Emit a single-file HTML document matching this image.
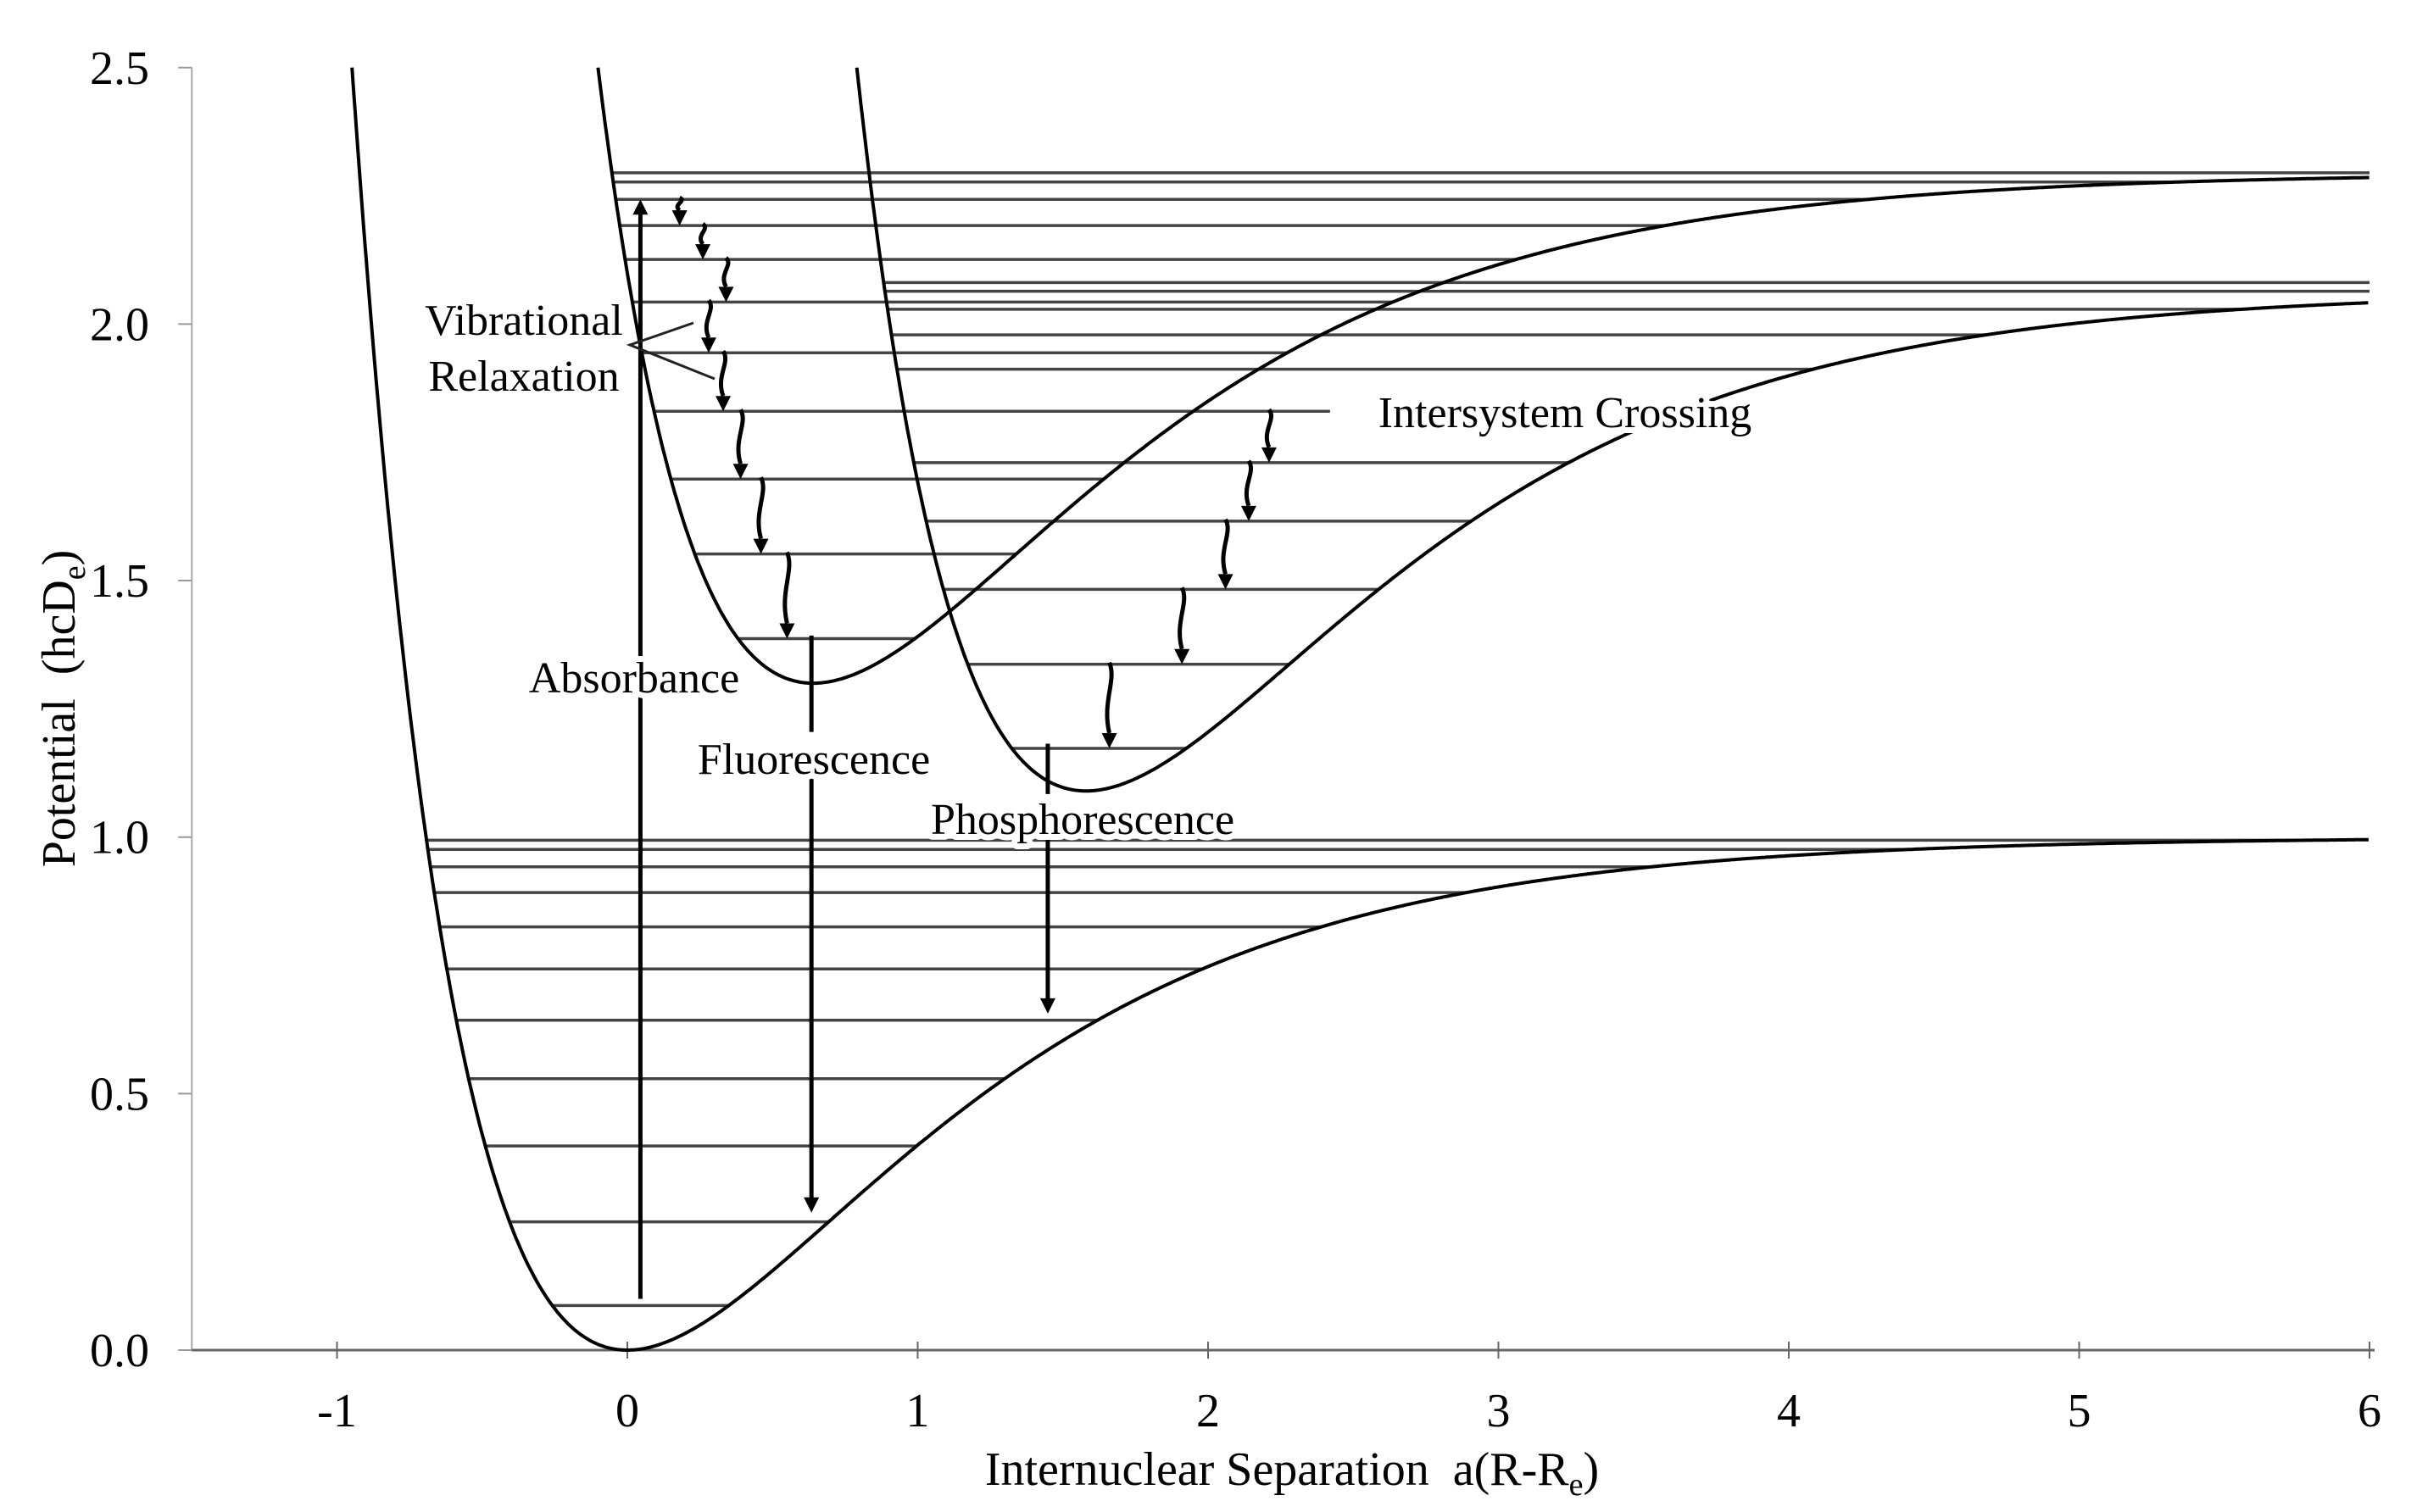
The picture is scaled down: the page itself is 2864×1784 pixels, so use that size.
<!DOCTYPE html>
<html><head><meta charset="utf-8"><style>
html,body{margin:0;padding:0;background:#fff}
svg{display:block}
text{font-family:"Liberation Serif","DejaVu Serif",serif;fill:#000}
</style></head><body>
<svg id="chart" width="2864" height="1784" viewBox="0 0 2864 1784" xmlns="http://www.w3.org/2000/svg">
<g id="grid"></g>
</svg>
<script>
// ---- data ----
const xTicks = [-1, 0, 1, 2, 3, 4, 5, 6];
const xTickLabels = ["-1", "0", "1", "2", "3", "4", "5", "6"];
const yTicks = [0, 0.5, 1, 1.5, 2, 2.5];
const yTickLabels = ["0.0", "0.5", "1.0", "1.5", "2.0", "2.5"];
const wellNames = ["ground-state", "singlet-state", "triplet-state"];
const wellMinX = [0, 0.64, 1.58];
const wellMinV = [0, 1.30, 1.09];
const wellDepth = [1.0, 0.995, 0.975];
const wellWidth = [1.0, 1.0, 1.0];
const groundLevels = [0.087, 0.250, 0.398, 0.529, 0.643, 0.743, 0.825, 0.892, 0.942, 0.976, 0.994];
const singletLevels = [1.387, 1.552, 1.698, 1.830, 1.944, 2.043, 2.126, 2.192, 2.243, 2.277, 2.295];
const tripletLevels = [1.173, 1.337, 1.483, 1.616, 1.730, 1.912, 1.979, 2.029, 2.064, 2.081];
const singletLineEndOverride = {3: 2.42};
const singletRelaxX = [0.18, 0.26, 0.34, 0.28, 0.33, 0.39, 0.46, 0.55];
const tripletRelaxX = [2.21, 2.14, 2.06, 1.91, 1.66];
const absorbance = {x: 0.045, from: 0.10, to: 2.243};
const fluorescence = {x: 0.634, from: 1.393, to: 0.268, gapTop: 1.205, gapBot: 1.13};
const phosphorescence = {x: 1.448, from: 1.182, to: 0.656, gapTop: 1.084, gapBot: 1.01};

// ---- axes ----
const X0 = 740, XS = 342.5, Y0 = 1593, YS = 605.3;
const xs = u => X0 + XS * u;
const ys = v => Y0 - YS * v;
const NS = "http://www.w3.org/2000/svg";
const svg = document.getElementById('chart');
function mk(tag, attrs, parent) {
  const e = document.createElementNS(NS, tag);
  for (const k in attrs) e.setAttribute(k, attrs[k]);
  (parent || svg).appendChild(e);
  return e;
}
function leftX(i, v) { const s = Math.sqrt(Math.max(0, (v - wellMinV[i]) / wellDepth[i])); return wellMinX[i] - Math.log(1 + s) / wellWidth[i]; }
function rightX(i, v) { const s = Math.sqrt(Math.max(0, (v - wellMinV[i]) / wellDepth[i])); return s >= 1 ? 6 : Math.min(6, wellMinX[i] - Math.log(1 - s) / wellWidth[i]); }
function morse(i, u) { const t = 1 - Math.exp(-wellWidth[i] * (u - wellMinX[i])); return wellMinV[i] + wellDepth[i] * t * t; }

// y axis
const yAxis = mk('line', {x1: xs(-1.5), y1: ys(0), x2: xs(-1.5), y2: ys(2.5), stroke: '#aaa', 'stroke-width': 2});


yTicks.forEach((v, k) => {
  const t = mk('line', {x1: xs(-1.5) - 16, y1: ys(v), x2: xs(-1.5), y2: ys(v), stroke: '#999', 'stroke-width': 2});
  
  
  const l = mk('text', {x: 176, y: ys(v) + 19, 'font-size': 56, 'text-anchor': 'end'});
  
  
  l.textContent = yTickLabels[k];
});
// x axis
const xAxis = mk('line', {x1: xs(-1.5), y1: ys(0), x2: xs(6) + 6, y2: ys(0), stroke: '#666', 'stroke-width': 3});


xTicks.forEach((u, k) => {
  const t = mk('line', {x1: xs(u), y1: ys(0) - 10, x2: xs(u), y2: ys(0) + 10, stroke: '#666', 'stroke-width': 2});
  
  
  const l = mk('text', {x: xs(u), y: 1683, 'font-size': 56, 'text-anchor': 'middle'});
  
  
  l.textContent = xTickLabels[k];
});

// vibrational levels
function levels(i, arr, name, override) {
  arr.forEach((v, k) => {
    const a = leftX(i, v);
    let b = rightX(i, v);
    if (override && override[k] !== undefined) b = override[k];
    const ln = mk('line', {x1: xs(a), y1: ys(v), x2: xs(b), y2: ys(v), stroke: '#444', 'stroke-width': 3.5});
    
    
  });
}
levels(0, groundLevels, 'ground-vibrational-level');
levels(1, singletLevels, 'singlet-vibrational-level', singletLineEndOverride);
levels(2, tripletLevels, 'triplet-vibrational-level');

// potential curves
wellNames.forEach((nm, i) => {
  let d = '';
  const start = leftX(i, 2.5);
  for (let u = start; u <= 6.0001; u += 0.005) {
    d += (d ? 'L' : 'M') + xs(u).toFixed(1) + ',' + ys(morse(i, u)).toFixed(1);
  }
  const p = mk('path', {d: d, fill: 'none', stroke: '#000', 'stroke-width': 4});
  
  
});

// straight arrows
function head(x, y, dir, name) {
  const h = mk('path', {d: `M${x},${y} L${x - 9},${y - dir * 18} L${x + 9},${y - dir * 18} Z`, fill: '#000'});
  
  
}
const ab = mk('line', {x1: xs(absorbance.x), y1: ys(absorbance.from), x2: xs(absorbance.x), y2: ys(absorbance.to) + 14, stroke: '#000', 'stroke-width': 5});


head(xs(absorbance.x), ys(absorbance.to), -1, 'absorbance-arrowhead');
function downArrow(o, name) {
  const a = mk('line', {x1: xs(o.x), y1: ys(o.from), x2: xs(o.x), y2: ys(o.gapTop), stroke: '#000', 'stroke-width': 5});
  
  
  const b = mk('line', {x1: xs(o.x), y1: ys(o.gapBot), x2: xs(o.x), y2: ys(o.to) - 14, stroke: '#000', 'stroke-width': 5});
  
  
  head(xs(o.x), ys(o.to), 1, name + '-head');
}
downArrow(fluorescence, 'fluorescence-arrow');
downArrow(phosphorescence, 'phosphorescence-arrow');

// squiggly relaxation arrows
function squiggle(u, vTop, vBot, name) {
  const x = xs(u), y1 = ys(vTop) - 2, y2 = ys(vBot);
  const L = y2 - 18 - y1;
  const d = `M${x},${y1} C${x + 9},${y1 + L * 0.25} ${x - 9},${y1 + L * 0.55} ${x},${y2 - 18}`;
  const p = mk('path', {d: d, fill: 'none', stroke: '#000', 'stroke-width': 5});
  
  
  head(x, y2, 1, name + '-head');
}
singletRelaxX.forEach((u, k) => squiggle(u, singletLevels[8 - k], singletLevels[7 - k], 'singlet-relaxation-arrow'));
tripletRelaxX.forEach((u, k) => squiggle(u, k === 0 ? singletLevels[3] : tripletLevels[4 - k + 1], tripletLevels[4 - k], 'triplet-relaxation-arrow'));

// pointer lines for vibrational relaxation
const pl = mk('path', {d: 'M818,381 L743,407 L843,447', fill: 'none', stroke: '#222', 'stroke-width': 3});



// labels
function label(txt, x, y, name, anchor) {
  const t = mk('text', {x: x, y: y, 'font-size': 52, 'text-anchor': anchor || 'middle', stroke: '#fff', 'stroke-width': 14, 'paint-order': 'stroke', 'stroke-linejoin': 'round'});
  
  
  t.textContent = txt;
  return t;
}
label('Vibrational', 618, 395, 'vibrational-label');
label('Relaxation', 618, 461, 'relaxation-label');
label('Absorbance', 748, 817, 'absorbance-label');
label('Fluorescence', 960, 913, 'fluorescence-label');
label('Phosphorescence', 1277, 984, 'phosphorescence-label');
label('Intersystem Crossing', 1846, 504, 'intersystem-crossing-label');

// axis titles
const xt = mk('text', {x: 1524, y: 1752, 'font-size': 56, 'text-anchor': 'middle'});


xt.innerHTML = 'Internuclear Separation\u00a0 a(R-R<tspan font-size="38" dy="12">e</tspan><tspan dy="-12">)</tspan>';
const yt = mk('text', {x: 0, y: 0, 'font-size': 56, 'text-anchor': 'middle', transform: 'translate(88,836) rotate(-90)'});


yt.innerHTML = 'Potential\u00a0 (hcD<tspan font-size="38" dy="12">e</tspan><tspan dy="-12">)</tspan>';
</script>
</body></html>
